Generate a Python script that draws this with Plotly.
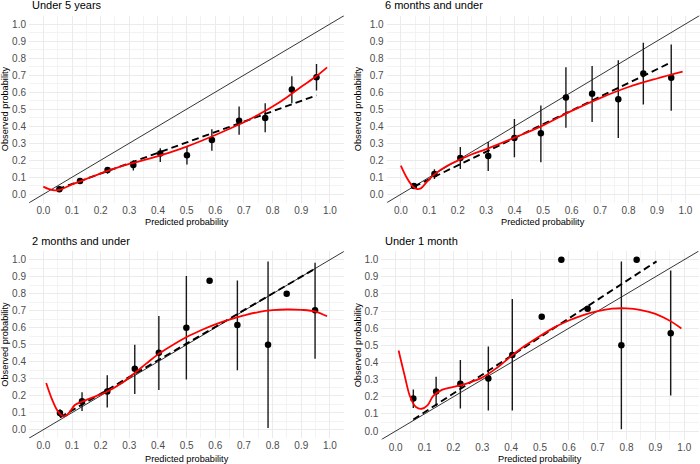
import plotly.graph_objects as go

FONT = "Liberation Sans, Arial, sans-serif"

titles = ["Under 5 years", "6 months and under", "2 months and under", "Under 1 month"]

# Observed points (x = mean predicted, y = observed, lo/hi = CI)
p1_x = [0.056, 0.128, 0.224, 0.314, 0.408, 0.501, 0.588, 0.683, 0.774, 0.867, 0.953]
p1_y = [0.029, 0.078, 0.143, 0.172, 0.239, 0.229, 0.319, 0.432, 0.448, 0.616, 0.687]
p1_lo = [0.020, 0.065, 0.120, 0.140, 0.190, 0.175, 0.256, 0.350, 0.364, 0.534, 0.609]
p1_hi = [0.040, 0.092, 0.160, 0.200, 0.270, 0.280, 0.382, 0.515, 0.534, 0.693, 0.765]

p2_x = [0.046, 0.118, 0.209, 0.307, 0.399, 0.492, 0.580, 0.672, 0.764, 0.852, 0.950]
p2_y = [0.049, 0.119, 0.213, 0.225, 0.331, 0.358, 0.569, 0.591, 0.558, 0.710, 0.685]
p2_lo = [0.035, 0.090, 0.149, 0.137, 0.217, 0.188, 0.391, 0.425, 0.331, 0.528, 0.491]
p2_hi = [0.060, 0.147, 0.278, 0.307, 0.442, 0.522, 0.746, 0.753, 0.787, 0.890, 0.879]

p3_x = [0.058, 0.135, 0.223, 0.319, 0.403, 0.499, 0.580, 0.677, 0.784, 0.849, 0.948]
p3_y = [0.098, 0.167, 0.225, 0.359, 0.453, 0.600, 0.876, 0.616, 0.500, 0.800, 0.702]
p3_lo = [0.075, 0.110, 0.130, 0.210, 0.233, 0.296, None, 0.349, 0.010, None, 0.418]
p3_hi = [0.120, 0.220, 0.320, 0.500, 0.669, 0.904, None, 0.878, 0.990, None, 0.982]

p4_x = [0.061, 0.140, 0.224, 0.321, 0.404, 0.506, 0.574, 0.665, 0.782, 0.835, 0.953]
p4_y = [0.190, 0.231, 0.276, 0.307, 0.444, 0.667, 1.000, 0.714, 0.500, 1.000, 0.571]
p4_lo = [0.135, 0.145, 0.131, 0.120, 0.120, None, None, None, 0.010, None, 0.207]
p4_hi = [0.243, 0.317, 0.415, 0.493, 0.771, None, None, None, 0.990, None, 0.937]

# Linear (dashed) fits: endpoints
d1_x = [0.05, 0.953]
d1_y = [0.030, 0.581]
d2_x = [0.046, 0.950]
d2_y = [0.045, 0.775]
d3_x = [0.058, 0.948]
d3_y = [0.072, 0.947]
d4_x = [0.061, 0.904]
d4_y = [0.067, 0.990]

# Smoothed (red) curves
s1_x = [0.0, 0.02, 0.04, 0.06, 0.1, 0.15, 0.2, 0.25, 0.3, 0.35, 0.4, 0.45, 0.5,
        0.55, 0.6, 0.65, 0.7, 0.75, 0.8, 0.85, 0.9, 0.95, 0.99]
s1_y = [0.045, 0.030, 0.023, 0.028, 0.058, 0.090, 0.123, 0.152, 0.178, 0.200, 0.224,
        0.250, 0.280, 0.313, 0.348, 0.385, 0.423, 0.467, 0.515, 0.570, 0.632, 0.690, 0.745]

s2_x = [0.0, 0.02, 0.04, 0.055, 0.07, 0.09, 0.12, 0.16, 0.2, 0.25, 0.3, 0.4, 0.5,
        0.6, 0.7, 0.8, 0.9, 0.99]
s2_y = [0.168, 0.100, 0.050, 0.032, 0.035, 0.070, 0.120, 0.165, 0.198, 0.235, 0.265,
        0.333, 0.405, 0.490, 0.565, 0.630, 0.680, 0.720]

s3_x = [0.01, 0.03, 0.05, 0.07, 0.09, 0.11, 0.135, 0.18, 0.22, 0.27, 0.32, 0.36, 0.4,
        0.45, 0.5, 0.55, 0.6, 0.65, 0.7, 0.75, 0.8, 0.85, 0.9, 0.95, 0.99]
s3_y = [0.275, 0.180, 0.110, 0.078, 0.100, 0.145, 0.165, 0.195, 0.222, 0.270, 0.335,
        0.390, 0.443, 0.497, 0.545, 0.585, 0.620, 0.648, 0.672, 0.692, 0.703, 0.707,
        0.705, 0.695, 0.667]

s4_x = [0.01, 0.03, 0.05, 0.07, 0.09, 0.11, 0.13, 0.16, 0.2, 0.25, 0.3, 0.35, 0.4,
        0.45, 0.5, 0.55, 0.6, 0.65, 0.7, 0.75, 0.8, 0.85, 0.9, 0.95, 0.99]
s4_y = [0.470, 0.330, 0.200, 0.140, 0.130, 0.150, 0.205, 0.240, 0.257, 0.280, 0.312,
        0.368, 0.437, 0.500, 0.555, 0.605, 0.645, 0.677, 0.700, 0.714, 0.716, 0.706,
        0.684, 0.643, 0.598]

panels = [
    (p1_x, p1_y, p1_lo, p1_hi, d1_x, d1_y, s1_x, s1_y),
    (p2_x, p2_y, p2_lo, p2_hi, d2_x, d2_y, s2_x, s2_y),
    (p3_x, p3_y, p3_lo, p3_hi, d3_x, d3_y, s3_x, s3_y),
    (p4_x, p4_y, p4_lo, p4_hi, d4_x, d4_y, s4_x, s4_y),
]

# panel geometry in pixels
W, H = 700, 464
px_dom = [(29, 344.3), (386.6, 699.7), (29, 344.3), (381.3, 698.7)]
py_dom = [(15.5, 202.8), (15.5, 202.8), (251.2, 438.2), (251.1, 439.6)]
ylab_x = [5, 358, 5, 358]
title_x = [30, 383, 30, 383]
title_y = [5, 5, 241, 241]
xlab_y = [221.7, 221.7, 458.5, 458.5]

fig = go.Figure()
layout = dict(
    width=W, height=H, margin=dict(l=0, r=0, t=0, b=0),
    paper_bgcolor="white", plot_bgcolor="white", showlegend=False,
    font=dict(family=FONT, color="#4D4D4D"),
)

major = [round(i * 0.1, 1) for i in range(11)]
minor = [round(0.05 + i * 0.1, 2) for i in range(10)]
annotations = []

for i, (px, py, plo, phi, dx, dy, sx, sy) in enumerate(panels):
    k = "" if i == 0 else str(i + 1)
    xa, ya = "x" + k, "y" + k
    x0, x1 = px_dom[i]
    y0, y1 = py_dom[i]
    axcommon = dict(
        range=[-0.05, 1.05], tickvals=major, ticktext=[f"{v:.1f}" for v in major],
        showgrid=True, gridcolor="#EBEBEB", gridwidth=1, zeroline=False, showline=False,
        ticks="", tickfont=dict(family=FONT, size=10, color="#4D4D4D"),
        minor=dict(tickvals=minor, showgrid=True, gridcolor="#F3F3F3", gridwidth=0.6),
    )
    layout["xaxis" + k] = dict(axcommon, domain=[x0 / W, x1 / W], anchor=ya, ticklabelstandoff=0)
    layout["yaxis" + k] = dict(axcommon, domain=[1 - y1 / H, 1 - y0 / H], anchor=xa, ticklabelstandoff=2)

    # identity line
    fig.add_trace(go.Scatter(x=[-0.05, 1.05], y=[-0.05, 1.05], mode="lines",
                             line=dict(color="#000000", width=0.8), xaxis=xa, yaxis=ya,
                             hoverinfo="skip"))
    plus = [(h - y) if h is not None else 0 for h, y in zip(phi, py)]
    minus = [(y - l) if l is not None else 0 for l, y in zip(plo, py)]
    fig.add_trace(go.Scatter(x=px, y=py, mode="markers",
                             marker=dict(color="#000000", size=6.5),
                             error_y=dict(type="data", symmetric=False, array=plus,
                                          arrayminus=minus, width=0, thickness=1.4,
                                          color="#1A1A1A"),
                             xaxis=xa, yaxis=ya))
    fig.add_trace(go.Scatter(x=dx, y=dy, mode="lines",
                             line=dict(color="#000000", width=1.9, dash="7px,4px"),
                             xaxis=xa, yaxis=ya))
    fig.add_trace(go.Scatter(x=sx, y=sy, mode="lines", line_shape="spline",
                             line=dict(color="#FF0000", width=1.8),
                             xaxis=xa, yaxis=ya))

    annotations.append(dict(text=titles[i], x=title_x[i] / W, y=1 - title_y[i] / H,
                            xref="paper", yref="paper", xanchor="left", yanchor="middle",
                            showarrow=False, font=dict(family=FONT, size=11, color="#000000")))
    annotations.append(dict(text="Predicted probability", x=(x0 + x1) / 2 / W,
                            y=1 - xlab_y[i] / H, xref="paper", yref="paper",
                            xanchor="center", yanchor="middle", showarrow=False,
                            font=dict(family=FONT, size=9.2, color="#000000")))
    annotations.append(dict(text="Observed probability", x=ylab_x[i] / W,
                            y=1 - (y0 + y1) / 2 / H, xref="paper", yref="paper",
                            xanchor="center", yanchor="middle", textangle=-90,
                            showarrow=False,
                            font=dict(family=FONT, size=9.2, color="#000000")))

layout["annotations"] = annotations
fig.update_layout(**layout)
fig.write_html("out.html")
